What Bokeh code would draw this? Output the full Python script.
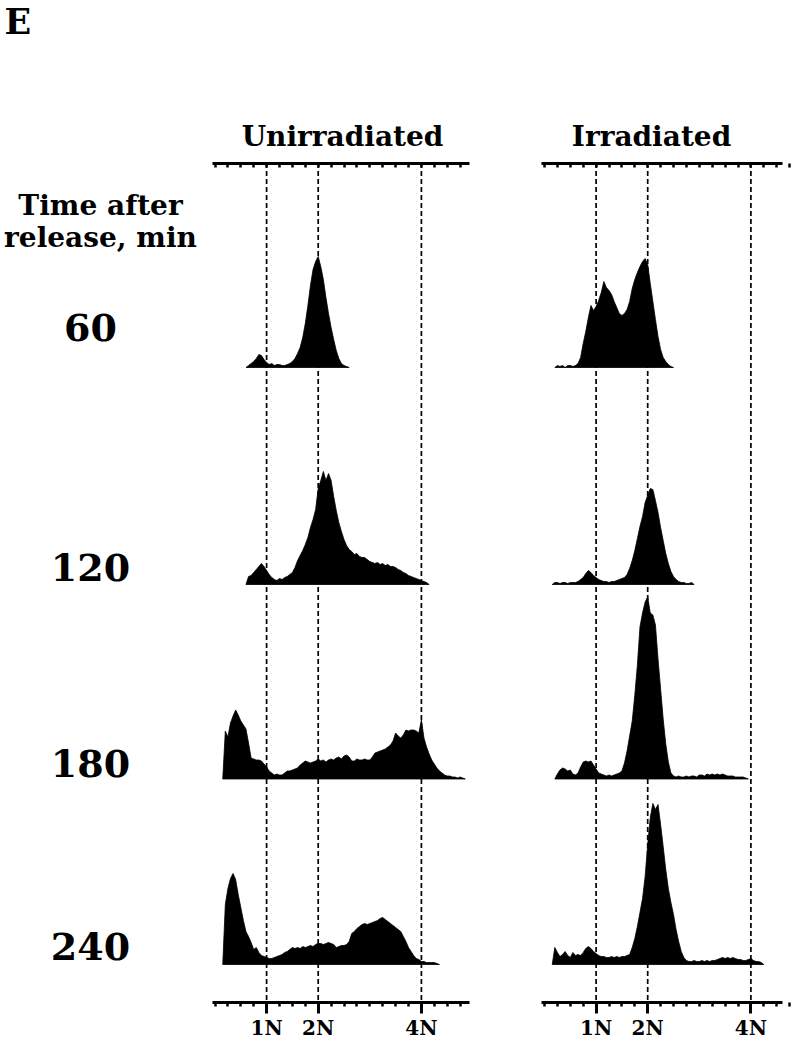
from bokeh.plotting import figure
from bokeh.models import Range1d, LinearAxis, FixedTicker
from bokeh.embed import file_html
from bokeh.resources import INLINE
from bokeh.core.properties import value
import numpy as np

# ---------------- data ----------------
panels = ["Unirradiated", "Irradiated"]
times = ["60", "120", "180", "240"]
tick_values = [1, 2, 4]
tick_labels = ["1N", "2N", "4N"]
bin_width = 0.05  # DNA content (N) per histogram channel

# Unirradiated histograms (start N, counts per channel)
unirr_60_start = 0.60
unirr_60 = [0, 2, 4, 6, 9, 13, 12, 8, 5, 3, 4, 2, 3, 3, 2, 2, 3, 4, 6, 9, 14, 20, 30, 44,
            62, 82, 98, 106, 111, 101, 88, 70, 54, 40, 28, 17, 9, 4, 2, 1, 0]
unirr_120_start = 0.60
unirr_120 = [0, 8, 9, 12, 15, 18, 21, 18, 14, 10, 7, 5, 4, 6, 5, 7, 8, 10, 12, 17, 24, 29,
             34, 40, 47, 57, 65, 75, 96, 104, 113, 104, 111, 104, 88, 74, 62, 53, 45, 39,
             35, 33, 30, 31, 28, 27, 27, 25, 23, 22, 21, 22, 20, 21, 19, 20, 18, 18, 17,
             15, 14, 12, 11, 9, 8, 7, 6, 5, 4, 3, 2, 0]
unirr_180_start = 0.15
unirr_180 = [0, 48, 42, 56, 63, 69, 64, 58, 54, 50, 36, 21, 20, 19, 19, 18, 15, 12, 8, 6,
             4, 5, 4, 4, 6, 8, 8, 9, 10, 11, 14, 16, 18, 17, 16, 17, 18, 20, 18, 19, 17,
             19, 20, 19, 21, 22, 20, 23, 24, 22, 18, 18, 20, 19, 19, 20, 19, 19, 22, 26,
             27, 28, 29, 30, 32, 34, 38, 46, 43, 41, 44, 49, 48, 49, 49, 48, 46, 59, 41,
             32, 25, 19, 15, 11, 8, 6, 4, 3, 3, 2, 2, 1, 2, 1, 0]
unirr_240_start = 0.15
unirr_240 = [0, 60, 76, 86, 91, 85, 70, 57, 44, 33, 28, 22, 15, 17, 12, 9, 8, 7, 6, 6, 7,
             8, 9, 10, 12, 13, 15, 17, 16, 17, 16, 18, 17, 18, 19, 18, 20, 21, 21, 20, 21,
             22, 21, 20, 17, 18, 19, 19, 20, 23, 31, 33, 36, 38, 40, 41, 40, 41, 42, 43,
             44, 46, 47, 45, 43, 41, 39, 37, 35, 33, 28, 23, 17, 13, 9, 6, 5, 3, 3, 2, 2,
             2, 2, 1, 0]

# Irradiated histograms
irr_60_start = 0.20
irr_60 = [0, 2, 1, 2, 0, 2, 2, 1, 2, 4, 10, 24, 36, 50, 62, 57, 61, 67, 75, 86, 80, 77,
          73, 66, 60, 54, 52, 54, 58, 66, 79, 88, 95, 101, 106, 109, 103, 84, 66, 48, 31,
          18, 10, 6, 3, 1, 0]
irr_120_start = 0.15
irr_120 = [0, 2, 2, 1, 2, 2, 1, 2, 2, 2, 3, 5, 7, 11, 14, 12, 9, 7, 5, 4, 3, 3, 2, 3, 3,
           4, 5, 6, 7, 10, 16, 24, 34, 46, 58, 68, 82, 89, 96, 95, 84, 72, 57, 44, 31,
           21, 13, 8, 5, 3, 2, 2, 1, 1, 2, 0]
irr_180_start = 0.20
irr_180 = [0, 5, 9, 11, 10, 8, 9, 5, 4, 6, 12, 17, 18, 17, 18, 14, 10, 6, 5, 4, 3, 4, 3,
           4, 5, 6, 8, 16, 28, 43, 58, 84, 114, 152, 166, 177, 182, 166, 164, 154, 120,
           90, 60, 35, 17, 6, 3, 2, 3, 2, 2, 3, 2, 3, 3, 2, 4, 4, 3, 5, 4, 5, 4, 5, 4,
           5, 4, 3, 3, 3, 2, 2, 2, 2, 1, 0]
irr_240_start = 0.15
irr_240 = [0, 17, 12, 8, 10, 13, 9, 7, 12, 9, 10, 9, 12, 16, 18, 16, 13, 11, 9, 8, 8, 7,
           7, 8, 7, 8, 7, 8, 8, 9, 10, 17, 26, 38, 52, 66, 88, 120, 147, 161, 155, 160,
           140, 118, 95, 76, 62, 50, 35, 23, 13, 7, 4, 3, 3, 4, 3, 3, 4, 3, 4, 3, 4, 4,
           5, 6, 7, 6, 7, 6, 7, 6, 5, 5, 4, 4, 5, 6, 4, 3, 3, 2, 0]

histograms = {
    ("Unirradiated", "60"): (unirr_60_start, unirr_60),
    ("Unirradiated", "120"): (unirr_120_start, unirr_120),
    ("Unirradiated", "180"): (unirr_180_start, unirr_180),
    ("Unirradiated", "240"): (unirr_240_start, unirr_240),
    ("Irradiated", "60"): (irr_60_start, irr_60),
    ("Irradiated", "120"): (irr_120_start, irr_120),
    ("Irradiated", "180"): (irr_180_start, irr_180),
    ("Irradiated", "240"): (irr_240_start, irr_240),
}

# ---------------- layout (page pixel coordinates) ----------------
PAGE_L, PAGE_R, PAGE_T, PAGE_B = 0, 792, 0, 1039
W, H = PAGE_R - PAGE_L, PAGE_B - PAGE_T
PX_PER_N = 51.6
panel_zero_x = {"Unirradiated": 214.5, "Irradiated": 544.0}
panel_bounds = {"Unirradiated": (-0.05, 4.93), "Irradiated": (-0.05, 4.62)}
panel_title_x = {"Unirradiated": 342, "Irradiated": 651}
row_baseline = {"60": 367, "120": 584, "180": 778.5, "240": 964}
row_label_y = {"60": 327, "120": 567, "180": 763, "240": 946}
axis_top_y = 162.5
axis_bot_y = 1002
FONT_NAME = "DejaVu Serif"
FONT = value(FONT_NAME)

p = figure(width=W, height=H, output_backend="svg", toolbar_location=None,
           x_range=Range1d(PAGE_L, PAGE_R), y_range=Range1d(PAGE_B, PAGE_T),
           x_axis_location=None, y_axis_location=None, min_border=0,
           outline_line_color=None, background_fill_color="white")
p.xgrid.visible = False
p.ygrid.visible = False

for name, x0 in panel_zero_x.items():
    p.extra_x_ranges[name] = Range1d((PAGE_L - x0) / PX_PER_N, (PAGE_R - x0) / PX_PER_N)
for t, base in row_baseline.items():
    p.extra_y_ranges["row" + t] = Range1d(base - PAGE_B, base - PAGE_T)

minor = [k / 4 for k in range(0, 20)]

for name in panels:
    # dashed reference lines at 1N, 2N, 4N
    p.segment(x0=tick_values, y0=[axis_top_y] * 3, x1=tick_values, y1=[axis_bot_y] * 3,
              x_range_name=name, line_color="black", line_width=1.7, line_dash="5 3")
    # histograms
    for t in times:
        start, counts = histograms[(name, t)]
        xs = start + bin_width * np.arange(len(counts))
        p.patch(x=xs, y=counts, x_range_name=name, y_range_name="row" + t,
                fill_color="black", line_color="black", line_width=0.8)
    # top axis: tick marks only, no labels
    top = LinearAxis(x_range_name=name, fixed_location=axis_top_y,
                     bounds=panel_bounds[name],
                     ticker=FixedTicker(ticks=[], minor_ticks=minor),
                     axis_line_width=3, axis_line_color="black",
                     minor_tick_in=4, minor_tick_out=0, minor_tick_line_width=2.5,
                     major_tick_line_color=None)
    p.add_layout(top, "above")
    bottom = LinearAxis(x_range_name=name, fixed_location=axis_bot_y,
                        bounds=panel_bounds[name],
                        ticker=FixedTicker(ticks=tick_values, minor_ticks=minor),
                        axis_line_width=3, axis_line_color="black",
                        major_tick_in=0, major_tick_out=11, major_tick_line_width=3,
                        minor_tick_in=0, minor_tick_out=4, minor_tick_line_width=2.5,
                        major_label_overrides=dict(zip(tick_values, tick_labels)),
                        major_label_text_font=FONT_NAME, major_label_text_font_style="bold",
                        major_label_text_font_size="20px", major_label_standoff=2,
                        major_label_text_color="black")
    p.add_layout(bottom, "below")

# titles
p.text(x=[panel_title_x[n] for n in panels], y=[136] * 2, text=panels,
       text_font=FONT, text_font_style="bold", text_font_size="28px",
       text_align="center", text_baseline="middle", text_color="black")
# panel letter
p.text(x=[4], y=[21], text=["E"], text_font=FONT, text_font_style="bold",
       text_font_size="35px", text_align="left", text_baseline="middle", text_color="black")
# y heading
p.text(x=[100, 100], y=[205, 237], text=["Time after", "release, min"],
       text_font=FONT, text_font_style="bold", text_font_size="28px",
       text_align="center", text_baseline="middle", text_color="black")
# row labels
p.text(x=[90] * 4, y=[row_label_y[t] for t in times], text=times,
       text_font=FONT, text_font_style="bold", text_font_size="38px",
       text_align="center", text_baseline="middle", text_color="black")

open("out.html", "w").write(file_html(p, INLINE))
